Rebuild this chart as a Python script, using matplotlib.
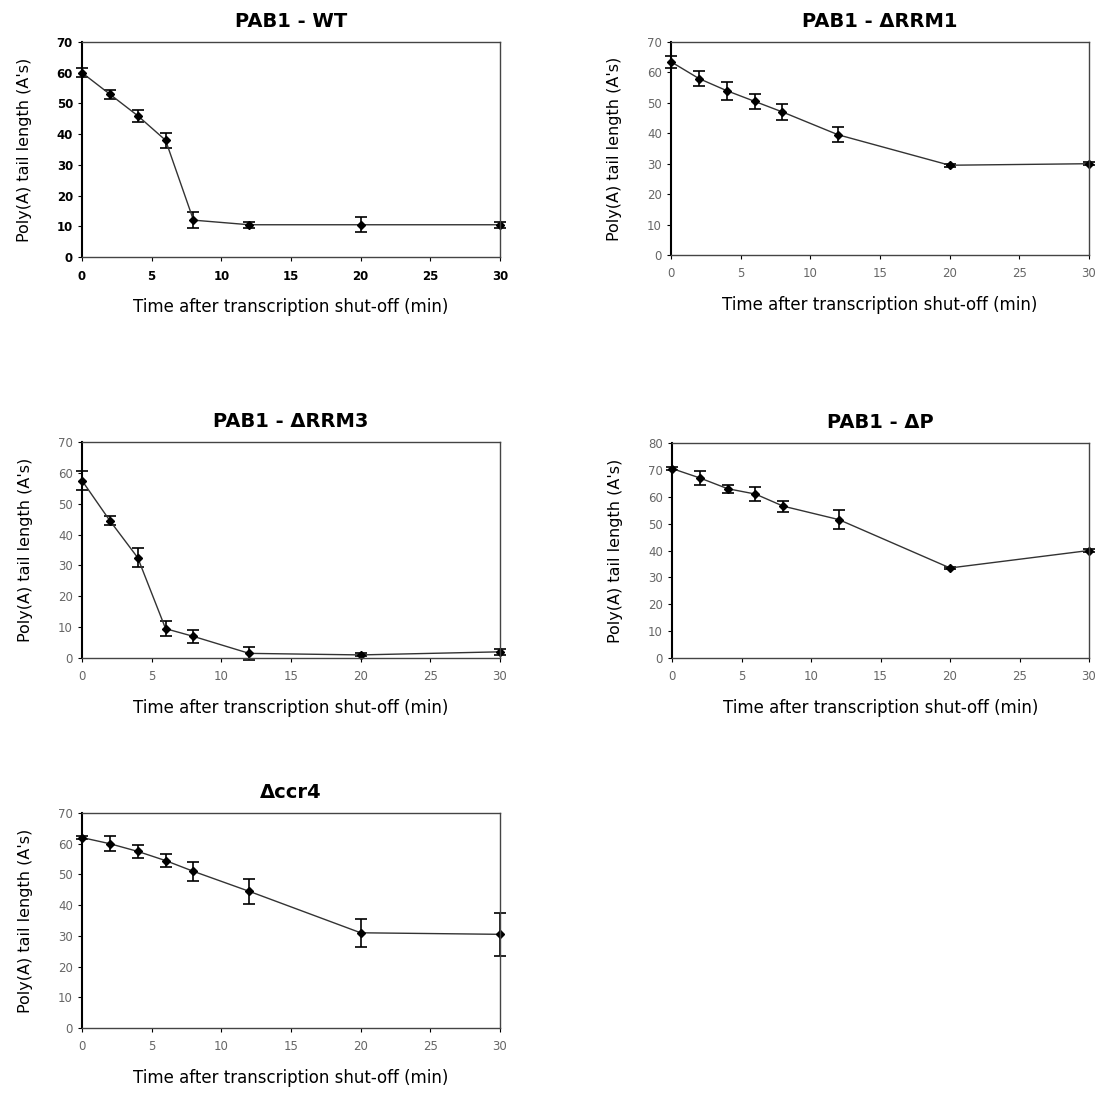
import matplotlib
matplotlib.use("Agg")
import matplotlib.pyplot as plt

time = [0, 2, 4, 6, 8, 12, 20, 30]

titles = ["PAB1 - WT", "PAB1 - ΔRRM1", "PAB1 - ΔRRM3", "PAB1 - ΔP", "Δccr4"]

wt_y = [60, 53, 46, 38, 12, 10.5, 10.5, 10.5]
wt_err = [1.5, 1.5, 2, 2.5, 2.5, 1, 2.5, 1]

rrm1_y = [63.5, 58, 54, 50.5, 47, 39.5, 29.5, 30]
rrm1_err = [2, 2.5, 3, 2.5, 2.5, 2.5, 0.5, 0.5]

rrm3_y = [57.5, 44.5, 32.5, 9.5, 7, 1.5, 1, 2]
rrm3_err = [3, 1.5, 3, 2.5, 2, 2, 0.5, 1]

dp_y = [70.5, 67, 63, 61, 56.5, 51.5, 33.5, 40]
dp_err = [0.5, 2.5, 1.5, 2.5, 2, 3.5, 0.5, 0.5]

ccr4_y = [62, 60, 57.5, 54.5, 51, 44.5, 31, 30.5]
ccr4_err = [0.5, 2.5, 2, 2, 3, 4, 4.5, 7]

series = [wt_y, rrm1_y, rrm3_y, dp_y, ccr4_y]
errors = [wt_err, rrm1_err, rrm3_err, dp_err, ccr4_err]
ymaxes = [70, 70, 70, 80, 70]

xticks = [0, 5, 10, 15, 20, 25, 30]

W, H = 1107, 1093
fig = plt.figure(figsize=(W / 100, H / 100), dpi=100)

# pixel boxes: left, top, right, bottom
boxes = [
    (82, 42, 500, 257),
    (671, 42, 1089, 255),
    (82, 442, 500, 658),
    (672, 443, 1089, 658),
    (82, 813, 500, 1028),
]

for i, (l, t, r, b) in enumerate(boxes):
    ax = fig.add_axes([l / W, 1 - b / H, (r - l) / W, (b - t) / H])
    ax.errorbar(time, series[i], yerr=errors[i], color="#333333", lw=1.0,
                marker="D", ms=4, mfc="black", mec="black",
                ecolor="black", elinewidth=1.2, capsize=4, capthick=1.2,
                clip_on=False)
    ax.set_xlim(0, 30)
    ax.set_ylim(0, ymaxes[i])
    ax.set_xticks(xticks)
    ax.set_yticks(list(range(0, ymaxes[i] + 1, 10)))
    bold_ticks = (i == 0)
    ax.tick_params(axis="both", labelsize=8.5, length=3, direction="out",
                   colors="black", labelcolor="black" if bold_ticks else "#666666")
    ax.tick_params(axis="x", pad=6)
    if bold_ticks:
        for lab in ax.get_xticklabels() + ax.get_yticklabels():
            lab.set_fontweight("bold")
    for s in ax.spines.values():
        s.set_color("#444444")
        s.set_linewidth(1.0)
    ax.spines["left"].set_color("black")
    ax.spines["left"].set_linewidth(1.5)
    ax.set_title(titles[i], fontsize=14, fontweight="bold", pad=11)
    ax.set_xlabel("Time after transcription shut-off (min)", fontsize=12, labelpad=11)
    ax.set_ylabel("Poly(A) tail length (A's)", fontsize=11.5, labelpad=18)

fig.savefig("out.png", dpi=100)
